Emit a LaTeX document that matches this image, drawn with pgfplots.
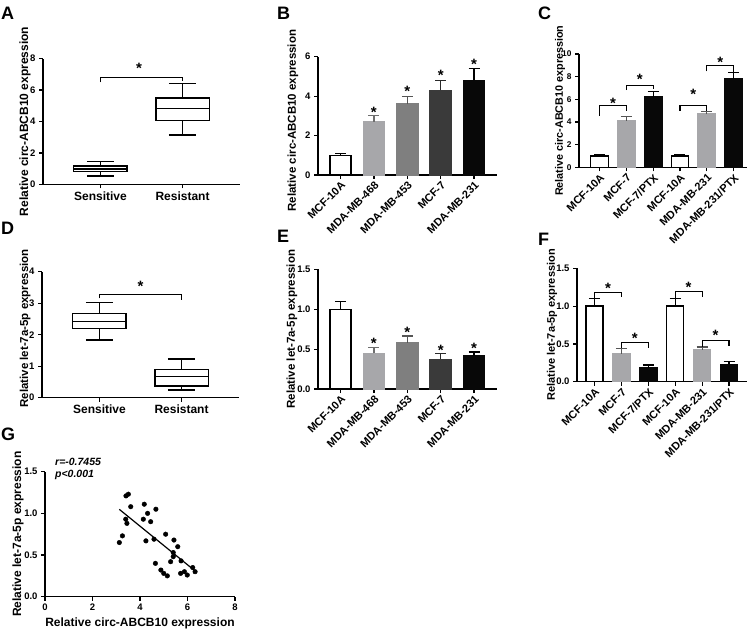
\documentclass[border=0pt]{standalone}
\usepackage{fontspec}
\setmainfont{Liberation Sans}
\usepackage{pgfplots}
\pgfplotsset{compat=1.18}
\usepgfplotslibrary{statistics}
\newcommand{\fs}[1]{\fontsize{#1}{#1}\selectfont}
\definecolor{gLt}{HTML}{A7A7AA}
\definecolor{gMd}{HTML}{7F7F7F}
\definecolor{gDk}{HTML}{3A3A3A}
\definecolor{gBk}{HTML}{080808}
\definecolor{eLt}{HTML}{6E6E6E}
\definecolor{eMd}{HTML}{555555}
\definecolor{eDk}{HTML}{2A2A2A}
\tikzset{
  star/.style={font=\bfseries\fs{15}, anchor=base, yshift=-8.3pt, inner sep=0pt},
  plab/.style={font=\bfseries\fs{18}, anchor=north west, inner sep=0pt},
  brk/.style={black, line width=1.1pt, mark=none},
  bx/.style={black, line width=1.4pt, mark=none},
}
\pgfplotsset{
  gp/.style={
    scale only axis, anchor=south west, clip=false,
    axis x line*=bottom, axis y line*=left,
    axis line style={line width=1.2pt, black},
    every outer x axis line/.append style={-},
    every outer y axis line/.append style={-},
    every inner x axis line/.append style={-},
    every inner y axis line/.append style={-},
    tick align=outside, major tick length=4pt,
    every tick/.style={line width=1.2pt, black},
    /pgf/number format/assume math mode=true,
    tick label style={font=\bfseries\fs{9.5}},
    label style={font=\bfseries\fs{11.5}},
    ymin=0,
  },
  rotx/.style={xticklabel style={rotate=45, anchor=north east, inner sep=1pt, font=\bfseries\fs{11}}},
  onedec/.style={yticklabel style={/pgf/number format/fixed, /pgf/number format/fixed zerofill, /pgf/number format/precision=1}},
}
% #1 x, #2 y, #3 err, #4 fill, #5 edge, #6 err colour, #7 bar width
\newcommand{\gbar}[7]{%
  \addplot[ybar, bar width=#7, fill=#4, draw=#5, line width=1.4pt,
    error bars/.cd, y dir=plus, y explicit,
    error bar style={line width=1.2pt, #6},
    error mark options={rotate=90, mark size=5.5pt, line width=1.2pt, #6}]
    coordinates {(#1,#2) +- (0,#3)};}
\begin{document}
\begin{tikzpicture}
\path[use as bounding box] (0pt,0pt) rectangle (753pt,-631pt);
\node[plab] at (1pt,-7pt) {A};
\node[plab] at (277pt,-7pt) {B};
\node[plab] at (538pt,-7pt) {C};
\node[plab] at (1pt,-222pt) {D};
\node[plab] at (277pt,-230pt) {E};
\node[plab] at (538pt,-233pt) {F};
\node[plab] at (1pt,-428pt) {G};

% ---------- A ----------
\begin{axis}[gp, at={(43pt,-184.5pt)}, width=197pt, height=126pt,
  xmin=0.3, xmax=2.7, ymax=8, ytick={0,2,4,6,8},
  xtick={1,2}, xticklabels={Sensitive,Resistant},
  xticklabel style={font=\bfseries\fs{12}},
  ylabel={Relative circ-ABCB10 expression},
  ylabel style={at={(axis description cs:-0.091,0.5)}, anchor=center, font=\bfseries\fs{12}},
  boxplot/draw direction=y]
\addplot[bx, boxplot prepared={draw position=1, lower whisker=0.53, lower quartile=0.83, median=0.98, upper quartile=1.18, upper whisker=1.45, box extend=0.65, whisker extend=0.33}] coordinates {};
\addplot[bx, boxplot prepared={draw position=2, lower whisker=3.15, lower quartile=4.06, median=4.83, upper quartile=5.49, upper whisker=6.4, box extend=0.65, whisker extend=0.33}] coordinates {};
\addplot[brk] coordinates {(1,6.49) (1,6.81) (2,6.81) (2,6.55)};
\node[star] at (axis cs:1.47,7.55) {*};
\end{axis}

% ---------- B ----------
\begin{axis}[gp, rotx, at={(318pt,-175pt)}, width=178.6pt, height=118.3pt,
  xmin=0.326, xmax=5.674, ymax=6, ytick={0,2,4,6},
  xtick={1,2,3,4,5}, xticklabels={MCF-10A,MDA-MB-468,MDA-MB-453,MCF-7,MDA-MB-231},
  ylabel={Relative circ-ABCB10 expression},
  ylabel style={at={(axis description cs:-0.14,0.46)}, anchor=center}]
\gbar{1}{1.0}{0.1}{white}{black}{black}{21pt}
\gbar{2}{2.7}{0.3}{gLt}{gLt}{eLt}{21pt}
\gbar{3}{3.6}{0.4}{gMd}{gMd}{eMd}{21pt}
\gbar{4}{4.3}{0.5}{gDk}{gDk}{eDk}{21pt}
\gbar{5}{4.8}{0.6}{gBk}{gBk}{black}{21pt}
\node[star] at (axis cs:2,3.35) {*};
\node[star] at (axis cs:3,4.4) {*};
\node[star] at (axis cs:4,5.2) {*};
\node[star] at (axis cs:5,5.78) {*};
\end{axis}

% ---------- C ----------
\begin{axis}[gp, rotx, at={(579pt,-167.5pt)}, width=168pt, height=113.5pt,
  xmin=0.235, xmax=6.5, ymax=10, ytick={0,2,4,6,8,10},
  yticklabel style={font=\bfseries\fs{8.3}},
  xtick={1,2,3,4,5,6}, xticklabels={MCF-10A,MCF-7,MCF-7/PTX,MCF-10A,MDA-MB-231,MDA-MB-231/PTX},
  ylabel={Relative circ-ABCB10 expression},
  ylabel style={at={(axis description cs:-0.113,0.5)}, anchor=center, font=\bfseries\fs{10.8}}]
\gbar{1}{1.0}{0.1}{white}{black}{black}{17.5pt}
\gbar{2}{4.1}{0.4}{gLt}{gLt}{eMd}{17.5pt}
\gbar{3}{6.2}{0.5}{gBk}{gBk}{black}{17.5pt}
\gbar{4}{1.0}{0.1}{white}{black}{black}{17.5pt}
\gbar{5}{4.7}{0.2}{gLt}{gLt}{eMd}{17.5pt}
\gbar{6}{7.8}{0.6}{gBk}{gBk}{black}{17.5pt}
\addplot[brk] coordinates {(1,4.56) (1,5.44) (2,5.44) (2,4.94)};
\addplot[brk] coordinates {(2,6.82) (2,7.26) (3,7.26) (3,6.91)};
\addplot[brk] coordinates {(4,5.0) (4,5.44) (5,5.44) (5,5.0)};
\addplot[brk] coordinates {(5,8.47) (5,8.97) (6,8.97) (6,8.41)};
\node[star] at (axis cs:1.5,5.97) {*};
\node[star] at (axis cs:2.5,8.0) {*};
\node[star] at (axis cs:4.5,6.68) {*};
\node[star] at (axis cs:5.5,9.5) {*};
\end{axis}

% ---------- D ----------
\begin{axis}[gp, at={(42pt,-397.7pt)}, width=197pt, height=126pt,
  xmin=0.3, xmax=2.7, ymax=4, ytick={0,1,2,3,4},
  xtick={1,2}, xticklabels={Sensitive,Resistant},
  xticklabel style={font=\bfseries\fs{12}},
  ylabel={Relative let-7a-5p expression},
  ylabel style={at={(axis description cs:-0.086,0.55)}, anchor=center},
  boxplot/draw direction=y]
\addplot[bx, boxplot prepared={draw position=1, lower whisker=1.83, lower quartile=2.20, median=2.41, upper quartile=2.68, upper whisker=3.03, box extend=0.65, whisker extend=0.33}] coordinates {};
\addplot[bx, boxplot prepared={draw position=2, lower whisker=0.24, lower quartile=0.37, median=0.67, upper quartile=0.90, upper whisker=1.23, box extend=0.65, whisker extend=0.33}] coordinates {};
\addplot[brk] coordinates {(1,3.15) (1,3.28) (2,3.28) (2,3.10)};
\node[star] at (axis cs:1.5,3.63) {*};
\end{axis}

% ---------- E ----------
\begin{axis}[gp, rotx, onedec, at={(318pt,-389pt)}, width=178.6pt, height=119.7pt,
  xmin=0.326, xmax=5.674, ymax=1.5, ytick={0,0.5,1,1.5},
  xtick={1,2,3,4,5}, xticklabels={MCF-10A,MDA-MB-468,MDA-MB-453,MCF-7,MDA-MB-231},
  ylabel={Relative let-7a-5p expression},
  ylabel style={at={(axis description cs:-0.146,0.5)}, anchor=center}]
\gbar{1}{1.0}{0.1}{white}{black}{black}{21pt}
\gbar{2}{0.448}{0.075}{gLt}{gLt}{eLt}{21pt}
\gbar{3}{0.58}{0.085}{gMd}{gMd}{eMd}{21pt}
\gbar{4}{0.372}{0.076}{gDk}{gDk}{eDk}{21pt}
\gbar{5}{0.418}{0.046}{gBk}{gBk}{black}{21pt}
\node[star] at (axis cs:2,0.615) {*};
\node[star] at (axis cs:3,0.75) {*};
\node[star] at (axis cs:4,0.53) {*};
\node[star] at (axis cs:5,0.55) {*};
\end{axis}

% ---------- F ----------
\begin{axis}[gp, rotx, onedec, at={(577pt,-381.7pt)}, width=169.5pt, height=113.4pt,
  xmin=0.35, xmax=6.65, ymax=1.5, ytick={0,0.5,1,1.5},
  xtick={1,2,3,4,5,6}, xticklabels={MCF-10A,MCF-7,MCF-7/PTX,MCF-10A,MDA-MB-231,MDA-MB-231/PTX},
  ylabel={Relative let-7a-5p expression},
  ylabel style={at={(axis description cs:-0.147,0.5)}, anchor=center, font=\bfseries\fs{11}}]
\gbar{1}{1.0}{0.1}{white}{black}{black}{17pt}
\gbar{2}{0.367}{0.07}{gLt}{gLt}{eMd}{17pt}
\gbar{3}{0.18}{0.04}{gBk}{gBk}{black}{17pt}
\gbar{4}{1.0}{0.1}{white}{black}{black}{17pt}
\gbar{5}{0.42}{0.04}{gLt}{gLt}{eMd}{17pt}
\gbar{6}{0.23}{0.04}{gBk}{gBk}{black}{17pt}
\addplot[brk] coordinates {(1,1.10) (1,1.18) (2,1.18) (2,1.12)};
\addplot[brk] coordinates {(2,0.44) (2,0.52) (3,0.52) (3,0.45)};
\addplot[brk] coordinates {(4,1.10) (4,1.19) (5,1.19) (5,1.12)};
\addplot[brk] coordinates {(5,0.46) (5,0.55) (6,0.55) (6,0.47)};
\node[star] at (axis cs:1.5,1.28) {*};
\node[star] at (axis cs:2.5,0.62) {*};
\node[star] at (axis cs:4.5,1.29) {*};
\node[star] at (axis cs:5.5,0.65) {*};
\end{axis}

% ---------- G ----------
\begin{axis}[gp, onedec, at={(45pt,-596.7pt)}, width=190pt, height=125pt,
  xmin=0, xmax=8, ymax=1.5, xtick={0,2,4,6,8}, ytick={0,0.5,1,1.5},
  xlabel={Relative circ-ABCB10 expression},
  xlabel style={font=\bfseries\fs{12}},
  ylabel={Relative let-7a-5p expression},
  ylabel style={at={(axis description cs:-0.142,0.5)}, anchor=center, font=\bfseries\fs{12}}]
\addplot[only marks, mark=*, mark size=2.3pt, black] coordinates {
(3.13,0.65) (3.26,0.73) (3.40,0.93) (3.45,0.88) (3.41,1.21) (3.51,1.23)
(3.61,1.08) (4.18,1.11) (4.14,0.93) (4.32,1.00) (4.45,0.90) (4.25,0.67)
(4.67,1.05) (4.59,0.69) (4.65,0.40) (4.88,0.32) (5.00,0.28) (5.15,0.25)
(5.08,0.75) (5.29,0.42) (5.40,0.53) (5.43,0.68) (5.40,0.48) (5.59,0.60)
(5.73,0.43) (5.71,0.28) (5.87,0.30) (5.99,0.26) (6.22,0.35) (6.32,0.30)};
\addplot[black, line width=1.2pt, mark=none] coordinates {(3.13,1.048) (6.36,0.30)};
\node[anchor=west, font=\bfseries\itshape\fs{10.5}, inner sep=0pt] at (axis cs:0.42,1.62) {r=-0.7455};
\node[anchor=west, font=\bfseries\itshape\fs{10.5}, inner sep=0pt] at (axis cs:0.42,1.46) {p<0.001};
\end{axis}
\end{tikzpicture}
\end{document}
